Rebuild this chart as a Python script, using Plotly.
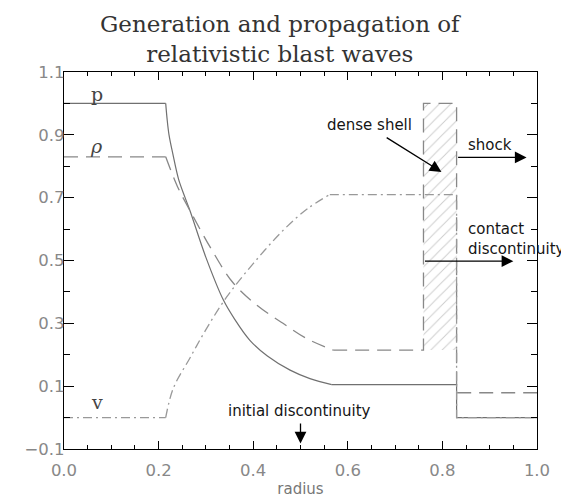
import plotly.graph_objects as go

# ---- data ----
# pressure p
p_flat_l_r = [0.0, 0.215]
p_flat_l_v = [1.0, 1.0]
p_curve_r = [0.215, 0.218, 0.222, 0.230, 0.242, 0.256, 0.266, 0.30, 0.337, 0.36, 0.393, 0.43, 0.478, 0.52, 0.566]
p_curve_v = [1.0, 0.95, 0.90, 0.84, 0.76, 0.70, 0.66, 0.51, 0.374, 0.315, 0.246, 0.196, 0.151, 0.124, 0.105]
p_tail_r = [0.566, 0.83, 0.83, 1.0]
p_tail_v = [0.105, 0.105, 0.0, 0.0]

# density rho
rho_flat_l_r = [0.0, 0.215]
rho_flat_l_v = [0.83, 0.83]
rho_curve_r = [0.215, 0.24, 0.266, 0.31, 0.357, 0.41, 0.463, 0.515, 0.569]
rho_curve_v = [0.83, 0.735, 0.66, 0.54, 0.43, 0.355, 0.30, 0.25, 0.215]
rho_tail_r = [0.569, 0.76, 0.76, 0.83, 0.83, 1.0]
rho_tail_v = [0.215, 0.215, 1.0, 1.0, 0.079, 0.079]

# velocity v
v_flat_l_r = [0.0, 0.215]
v_flat_l_v = [0.0, 0.0]
v_curve_r = [0.215, 0.231, 0.266, 0.30, 0.344, 0.40, 0.464, 0.515, 0.562]
v_curve_v = [0.0, 0.093, 0.189, 0.28, 0.384, 0.49, 0.597, 0.665, 0.71]
v_tail_r = [0.562, 0.83, 0.83, 1.0]
v_tail_v = [0.71, 0.71, 0.0, 0.0]

# dense shell region
shell_r = [0.76, 0.76, 0.83, 0.83, 0.76]
shell_v = [0.215, 1.0, 1.0, 0.215, 0.215]

x_ticks = [0.0, 0.2, 0.4, 0.6, 0.8, 1.0]
x_labels = ["0.0", "0.2", "0.4", "0.6", "0.8", "1.0"]
y_ticks = [-0.1, 0.1, 0.3, 0.5, 0.7, 0.9, 1.1]
y_labels = ["\u22120.1", "0.1", "0.3", "0.5", "0.7", "0.9", "1.1"]

fig = go.Figure()

fig.add_trace(go.Scatter(
    x=shell_r, y=shell_v, mode="lines", fill="toself",
    line=dict(width=0, color="rgba(0,0,0,0)"),
    fillcolor="rgba(255,255,255,0)",
    fillpattern=dict(shape="/", fgcolor="#9a9a9a", bgcolor="white", size=8, solidity=0.12),
    hoverinfo="skip", showlegend=False))

p_line = dict(color="#707070", width=1.2)
rho_line = dict(color="#888888", width=1.3, dash="14px,8px")
v_line = dict(color="#999999", width=1.3, dash="9px,4px,2px,4px")

for xs, ys, ln, shape in [
    (p_flat_l_r, p_flat_l_v, p_line, "linear"),
    (p_curve_r, p_curve_v, p_line, "spline"),
    (p_tail_r, p_tail_v, p_line, "linear"),
    (rho_flat_l_r, rho_flat_l_v, rho_line, "linear"),
    (rho_curve_r, rho_curve_v, rho_line, "spline"),
    (rho_tail_r, rho_tail_v, rho_line, "linear"),
    (v_flat_l_r, v_flat_l_v, v_line, "linear"),
    (v_curve_r, v_curve_v, v_line, "spline"),
    (v_tail_r, v_tail_v, v_line, "linear"),
]:
    l = dict(ln)
    l["shape"] = shape
    fig.add_trace(go.Scatter(x=xs, y=ys, mode="lines", line=l, showlegend=False))

ann_font = dict(family="DejaVu Sans", size=15, color="#151515")
serif_font = dict(family="DejaVu Serif", size=19, color="#444444")
arrow = dict(text="", showarrow=True, axref="x", ayref="y",
             arrowhead=2, arrowsize=1.8, arrowwidth=1.3, arrowcolor="black")

annotations = [
    dict(x=0.069, y=1.03, text="p", showarrow=False, font=serif_font),
    dict(x=0.069, y=0.865, text="<i>\u03c1</i>", showarrow=False, font=serif_font),
    dict(x=0.069, y=0.05, text="v", showarrow=False, font=serif_font),
    dict(x=0.645, y=0.931, text="dense shell", showarrow=False, font=ann_font),
    dict(x=0.85, y=0.868, text="shock", showarrow=False, xanchor="left", font=ann_font),
    dict(x=0.85, y=0.568, text="contact<br>discontinuity", showarrow=False, xanchor="left",
         align="left", font=ann_font),
    dict(x=0.497, y=0.02, text="initial discontinuity", showarrow=False, font=ann_font),
    dict(x=0.798, y=0.782, ax=0.679, ay=0.894, **arrow),
    dict(x=0.978, y=0.828, ax=0.83, ay=0.828, **arrow),
    dict(x=0.95, y=0.498, ax=0.76, ay=0.498, **arrow),
    dict(x=0.5, y=-0.0825, ax=0.5, ay=-0.0137, **arrow),
    # title
    dict(x=0.457, y=1.166, xref="paper", yref="paper", xanchor="center", yanchor="top",
         text="Generation and propagation of<br>relativistic blast waves", align="center",
         showarrow=False, font=dict(family="DejaVu Serif", size=23, color="#333333")),
]

fig.update_layout(
    width=561, height=494,
    margin=dict(l=56, r=32, t=64, b=53),
    plot_bgcolor="white", paper_bgcolor="white",
    annotations=annotations,
    showlegend=False,
)

fig.update_xaxes(
    range=[0, 1], tickvals=x_ticks, ticktext=x_labels, automargin=False,
    ticks="inside", ticklen=8, tickwidth=1.2, tickcolor="black",
    showline=True, linecolor="black", linewidth=1.3, mirror="allticks",
    showgrid=False, zeroline=False, ticklabelstandoff=6,
    tickfont=dict(family="DejaVu Sans", size=16.5, color="#888888"),
    minor=dict(dtick=0.05, tick0=0, ticks="inside", ticklen=4, tickcolor="black", tickwidth=1.1, showgrid=False),
    title=dict(text="radius", font=dict(family="DejaVu Sans", size=15, color="#777777"), standoff=4),
)
fig.update_yaxes(
    range=[-0.1, 1.1], tickvals=y_ticks, ticktext=y_labels, automargin=False,
    ticks="inside", ticklen=10, tickwidth=1.2, tickcolor="black",
    showline=True, linecolor="black", linewidth=1.3, mirror="allticks",
    showgrid=False, zeroline=False, ticklabelstandoff=-5,
    tickfont=dict(family="DejaVu Sans", size=16.5, color="#888888"),
    minor=dict(dtick=0.1, tick0=-0.1, ticks="inside", ticklen=6, tickcolor="black", tickwidth=1.1, showgrid=False),
)

fig.write_html("out.html")
